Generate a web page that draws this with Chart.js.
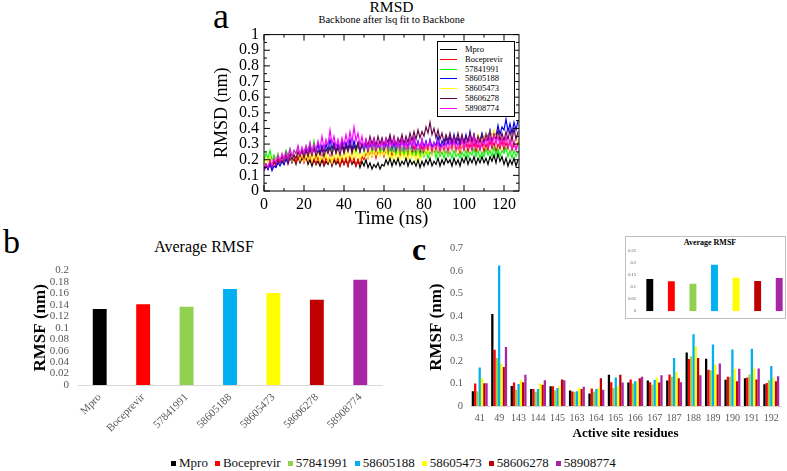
<!DOCTYPE html>
<html><head><meta charset="utf-8">
<script src="https://cdn.jsdelivr.net/npm/chart.js@4.4.0/dist/chart.umd.min.js"></script>
<style>
html,body{margin:0;padding:0;background:#fff;width:787px;height:471px;overflow:hidden;font-family:"Liberation Serif","Times New Roman",serif;}
.abs{position:absolute;white-space:nowrap;line-height:1;font-family:"Liberation Serif","Times New Roman",serif;}
canvas{position:absolute;display:block;}
#lega{position:absolute;left:437px;top:41px;width:78px;height:76px;box-sizing:border-box;border:1px solid #000;background:#fff;}
.lrow{position:absolute;left:0;height:10px;font-size:8.5px;line-height:10px;font-family:"Liberation Serif","Times New Roman",serif;}
.lrow i{position:absolute;left:2px;top:5px;width:17px;height:0;border-top:1px solid #000;}
.lrow span{position:absolute;left:27px;top:0;font-family:"Liberation Serif","Times New Roman",serif;white-space:nowrap;}
#inset{position:absolute;left:625px;top:236px;width:161px;height:83px;box-sizing:border-box;border:1px solid #bfbfbf;overflow:hidden;background:#fff;}
#leg{position:absolute;left:171px;top:456px;display:flex;align-items:center;font-size:13px;line-height:14px;color:#111;font-family:"Liberation Serif","Times New Roman",serif;}
#leg .it{display:flex;align-items:center;margin-right:7px;}
#leg .sq{width:5px;height:5px;margin-right:3px;}
#leg span{font-family:"Liberation Serif","Times New Roman",serif;white-space:nowrap;}
</style></head><body>

<!-- panel a texts -->
<div class="abs" style="left:213px;top:-2px;font-size:36px;">a</div>
<div class="abs" style="left:391.5px;top:-1px;font-size:15.5px;transform:translateX(-50%);">RMSD</div>
<div class="abs" style="left:391.5px;top:14.7px;font-size:10.5px;transform:translateX(-50%);">Backbone after lsq fit to Backbone</div>
<canvas id="ca" width="330" height="210" style="left:200px;top:20px;"></canvas>
<div id="lega"></div>

<!-- panel b texts -->
<div class="abs" style="left:3px;top:224.5px;font-size:34px;">b</div>
<div class="abs" style="left:204px;top:238.6px;font-size:16px;transform:translateX(-50%);">Average RMSF</div>
<canvas id="cb" width="390" height="185" style="left:0px;top:255px;"></canvas>

<!-- panel c -->
<div class="abs" style="left:412px;top:233px;font-size:32px;font-weight:bold;">c</div>
<canvas id="cc" width="397" height="210" style="left:390px;top:235px;"></canvas>
<div id="inset">
  <div class="abs" style="left:84px;top:2px;font-size:8px;font-weight:bold;transform:translateX(-50%);">Average RMSF</div>
  <canvas id="ci" width="170" height="80" style="left:0;top:0;"></canvas>
</div>

<div id="leg"></div>

<script>
// ---------- shared names ----------
const seriesNames = ['Mpro','Boceprevir','57841991','58605188','58605473','58606278','58908774'];

// ---------- panel a: RMSD (nm) vs time (ns), 1 ns sampling ----------
const timeNs = Array.from({length:128}, (_, i) => i);
const rmsdMpro = [
0.13,0.17,0.14,0.18,0.15,0.19,0.16,0.20,0.17,0.19,
0.17,0.21,0.18,0.22,0.18,0.21,0.17,0.22,0.18,0.21,
0.19,0.22,0.17,0.20,0.16,0.20,0.17,0.19,0.16,0.20,
0.16,0.19,0.17,0.21,0.16,0.20,0.17,0.19,0.16,0.20,
0.17,0.20,0.16,0.21,0.17,0.19,0.16,0.20,0.15,0.19,
0.16,0.20,0.15,0.18,0.14,0.17,0.15,0.18,0.14,0.17,
0.16,0.20,0.17,0.21,0.16,0.20,0.17,0.21,0.16,0.19,
0.17,0.21,0.16,0.20,0.17,0.19,0.16,0.20,0.15,0.19,
0.16,0.20,0.17,0.21,0.16,0.19,0.17,0.21,0.16,0.20,
0.17,0.21,0.18,0.20,0.16,0.21,0.17,0.20,0.16,0.21,
0.18,0.22,0.17,0.21,0.18,0.22,0.17,0.21,0.18,0.22,
0.18,0.21,0.17,0.22,0.19,0.23,0.18,0.24,0.19,0.22,
0.17,0.21,0.16,0.20,0.17,0.21,0.16,0.20];
const rmsdBoceprevir = [
0.13,0.17,0.14,0.18,0.15,0.19,0.16,0.21,0.17,0.20,
0.18,0.22,0.17,0.21,0.19,0.23,0.18,0.22,0.19,0.23,
0.18,0.22,0.19,0.24,0.18,0.21,0.17,0.22,0.18,0.23,
0.17,0.21,0.18,0.23,0.17,0.22,0.18,0.21,0.16,0.22,
0.17,0.21,0.16,0.22,0.18,0.21,0.16,0.20,0.17,0.22,
0.20,0.25,0.21,0.26,0.22,0.27,0.21,0.26,0.23,0.27,
0.22,0.27,0.23,0.28,0.22,0.26,0.23,0.28,0.22,0.27,
0.23,0.28,0.22,0.27,0.24,0.29,0.23,0.27,0.24,0.29,
0.23,0.28,0.25,0.30,0.24,0.28,0.25,0.30,0.24,0.29,
0.25,0.30,0.24,0.29,0.26,0.31,0.25,0.29,0.24,0.30,
0.26,0.31,0.25,0.30,0.26,0.31,0.25,0.30,0.26,0.31,
0.25,0.30,0.26,0.32,0.27,0.31,0.25,0.30,0.27,0.32,
0.26,0.31,0.27,0.32,0.26,0.30,0.27,0.31];
const rmsd57841991 = [
0.19,0.24,0.21,0.26,0.19,0.23,0.20,0.24,0.19,0.23,
0.22,0.26,0.23,0.27,0.22,0.26,0.24,0.28,0.23,0.27,
0.25,0.29,0.26,0.31,0.25,0.32,0.26,0.30,0.25,0.29,
0.26,0.30,0.25,0.29,0.24,0.30,0.25,0.29,0.26,0.31,
0.25,0.30,0.26,0.29,0.27,0.31,0.25,0.29,0.26,0.30,
0.25,0.29,0.26,0.31,0.25,0.30,0.24,0.29,0.25,0.28,
0.25,0.29,0.24,0.28,0.25,0.29,0.23,0.28,0.24,0.28,
0.23,0.27,0.24,0.28,0.22,0.26,0.23,0.27,0.22,0.26,
0.22,0.26,0.21,0.25,0.23,0.27,0.21,0.26,0.22,0.25,
0.21,0.26,0.22,0.25,0.21,0.26,0.22,0.24,0.21,0.25,
0.22,0.26,0.21,0.25,0.23,0.27,0.22,0.26,0.21,0.25,
0.22,0.27,0.23,0.26,0.22,0.28,0.23,0.27,0.22,0.26,
0.24,0.28,0.22,0.26,0.21,0.26,0.22,0.25];
const rmsd58605188 = [
0.13,0.16,0.14,0.17,0.13,0.16,0.15,0.18,0.16,0.19,
0.17,0.21,0.18,0.23,0.19,0.23,0.21,0.25,0.21,0.26,
0.23,0.27,0.24,0.29,0.23,0.28,0.25,0.30,0.24,0.29,
0.25,0.30,0.26,0.33,0.27,0.31,0.25,0.30,0.27,0.32,
0.26,0.31,0.27,0.33,0.26,0.32,0.27,0.31,0.25,0.30,
0.26,0.31,0.25,0.30,0.27,0.32,0.26,0.30,0.27,0.33,
0.26,0.31,0.28,0.34,0.27,0.31,0.26,0.32,0.28,0.33,
0.27,0.32,0.28,0.33,0.27,0.34,0.28,0.32,0.27,0.33,
0.28,0.32,0.27,0.33,0.28,0.31,0.29,0.35,0.28,0.32,
0.29,0.34,0.30,0.35,0.29,0.36,0.30,0.34,0.29,0.35,
0.31,0.36,0.30,0.38,0.31,0.36,0.30,0.35,0.32,0.37,
0.32,0.37,0.34,0.39,0.33,0.38,0.35,0.42,0.36,0.41,
0.39,0.46,0.38,0.43,0.37,0.44,0.39,0.45];
const rmsd58605473 = [
0.17,0.21,0.18,0.22,0.17,0.21,0.19,0.23,0.18,0.22,
0.19,0.23,0.20,0.24,0.19,0.23,0.21,0.25,0.20,0.24,
0.19,0.23,0.20,0.24,0.19,0.23,0.20,0.24,0.19,0.22,
0.20,0.24,0.19,0.22,0.18,0.23,0.20,0.24,0.19,0.23,
0.20,0.25,0.21,0.24,0.20,0.26,0.21,0.25,0.20,0.24,
0.22,0.26,0.21,0.27,0.22,0.26,0.23,0.27,0.22,0.26,
0.23,0.27,0.21,0.25,0.20,0.25,0.21,0.26,0.20,0.25,
0.21,0.25,0.20,0.26,0.21,0.24,0.19,0.25,0.20,0.23,
0.23,0.27,0.24,0.29,0.23,0.28,0.25,0.29,0.24,0.28,
0.25,0.29,0.24,0.30,0.26,0.30,0.25,0.31,0.26,0.30,
0.28,0.32,0.29,0.34,0.30,0.35,0.31,0.36,0.30,0.35,
0.33,0.37,0.32,0.38,0.34,0.39,0.33,0.37,0.32,0.36,
0.30,0.34,0.29,0.33,0.28,0.32,0.29,0.33];
const rmsd58606278 = [
0.14,0.17,0.15,0.18,0.16,0.19,0.17,0.21,0.18,0.22,
0.19,0.23,0.20,0.24,0.20,0.23,0.21,0.25,0.22,0.26,
0.21,0.26,0.22,0.27,0.23,0.28,0.22,0.26,0.23,0.27,
0.22,0.27,0.24,0.28,0.23,0.29,0.24,0.28,0.23,0.29,
0.24,0.29,0.25,0.30,0.24,0.29,0.26,0.31,0.25,0.30,
0.28,0.33,0.29,0.35,0.30,0.34,0.29,0.35,0.30,0.34,
0.29,0.34,0.31,0.36,0.30,0.35,0.29,0.34,0.31,0.36,
0.30,0.35,0.31,0.37,0.32,0.38,0.33,0.39,0.34,0.38,
0.35,0.41,0.37,0.44,0.36,0.40,0.34,0.39,0.33,0.37,
0.31,0.36,0.32,0.37,0.31,0.35,0.32,0.37,0.31,0.36,
0.30,0.35,0.32,0.37,0.31,0.36,0.30,0.35,0.31,0.36,
0.31,0.36,0.32,0.38,0.31,0.36,0.33,0.39,0.32,0.37,
0.32,0.38,0.33,0.39,0.32,0.40,0.33,0.38];
const rmsd58908774 = [
0.13,0.17,0.15,0.20,0.16,0.21,0.18,0.23,0.19,0.24,
0.20,0.25,0.21,0.27,0.22,0.26,0.24,0.29,0.23,0.28,
0.24,0.29,0.25,0.31,0.24,0.30,0.26,0.32,0.27,0.35,
0.27,0.33,0.29,0.39,0.30,0.35,0.28,0.33,0.27,0.34,
0.29,0.36,0.30,0.38,0.31,0.41,0.32,0.37,0.29,0.35,
0.27,0.33,0.26,0.32,0.27,0.33,0.26,0.31,0.27,0.32,
0.27,0.33,0.26,0.32,0.28,0.34,0.27,0.32,0.26,0.33,
0.27,0.32,0.26,0.33,0.28,0.34,0.26,0.31,0.27,0.33,
0.26,0.31,0.27,0.32,0.25,0.31,0.26,0.32,0.25,0.30,
0.26,0.31,0.25,0.32,0.27,0.33,0.26,0.31,0.27,0.33,
0.27,0.32,0.28,0.34,0.27,0.35,0.28,0.33,0.27,0.32,
0.29,0.34,0.28,0.35,0.29,0.36,0.30,0.35,0.29,0.34,
0.29,0.35,0.28,0.33,0.27,0.32,0.26,0.31];

// ---------- panel b: average RMSF (nm) ----------
const avgRmsf = [0.133,0.141,0.137,0.168,0.161,0.149,0.184];

// ---------- panel c: RMSF (nm) of active site residues ----------
const residues = ['41','49','143','144','145','163','164','165','166','167','187','188','189','190','191','192'];
const rmsfMpro       = [0.066,0.408,0.089,0.075,0.088,0.069,0.056,0.139,0.104,0.113,0.113,0.237,0.210,0.117,0.123,0.096];
const rmsfBoceprevir = [0.100,0.250,0.104,0.075,0.088,0.064,0.078,0.105,0.118,0.105,0.140,0.209,0.161,0.130,0.127,0.102];
const rmsf57841991   = [0.066,0.213,0.072,0.063,0.070,0.062,0.063,0.080,0.100,0.094,0.130,0.221,0.159,0.130,0.140,0.114];
const rmsf58605188   = [0.171,0.624,0.098,0.075,0.080,0.066,0.076,0.126,0.110,0.117,0.213,0.319,0.273,0.251,0.254,0.178];
const rmsf58605473   = [0.124,0.187,0.114,0.100,0.088,0.080,0.080,0.089,0.107,0.127,0.152,0.266,0.183,0.165,0.167,0.127];
const rmsf58606278   = [0.101,0.173,0.105,0.094,0.118,0.075,0.123,0.139,0.123,0.104,0.123,0.213,0.140,0.110,0.118,0.110];
const rmsf58908774   = [0.101,0.262,0.139,0.114,0.114,0.086,0.072,0.104,0.130,0.136,0.105,0.137,0.189,0.165,0.167,0.132];
// inset: average RMSF over active site
const insetAvgRmsf = [0.134,0.125,0.114,0.193,0.139,0.126,0.138];

// ---------- colours ----------
const graceColors = ['#000000','#ff0000','#00ff00','#0000ff','#ffff00','#670748','#ff00ff'];
const excelColors = ['#000000','#ff0000','#92d050','#00b0f0','#ffff00','#c00000','#a626a4'];

const SERIF = '"Liberation Serif","Times New Roman",serif';
Chart.defaults.font.family = SERIF;
Chart.defaults.animation = false;

// ---------- panel a chart ----------
const rmsdSeries = [rmsdMpro,rmsdBoceprevir,rmsd57841991,rmsd58605188,rmsd58605473,rmsd58606278,rmsd58908774];

const frameTicks = {
  id:'frameTicks',
  afterDraw(chart){
    const {ctx, chartArea:a} = chart; const xs = chart.scales.x, ys = chart.scales.y;
    ctx.save(); ctx.strokeStyle = '#000'; ctx.lineWidth = 1;
    ctx.strokeRect(a.left, a.top, a.right - a.left, a.bottom - a.top);
    ctx.beginPath();
    xs.ticks.forEach(t => {
      const px = xs.getPixelForValue(t.value); const len = (t.value % 20 === 0) ? 6 : 3;
      ctx.moveTo(px, a.bottom); ctx.lineTo(px, a.bottom - len);
      ctx.moveTo(px, a.top); ctx.lineTo(px, a.top + len);
    });
    ys.ticks.forEach((t, i) => {
      const py = ys.getPixelForValue(t.value);
      ctx.moveTo(a.left, py); ctx.lineTo(a.left + 6, py);
      ctx.moveTo(a.right, py); ctx.lineTo(a.right - 6, py);
      if (i < ys.ticks.length - 1) {
        const pm = ys.getPixelForValue((t.value + ys.ticks[i+1].value) / 2);
        ctx.moveTo(a.left, pm); ctx.lineTo(a.left + 3, pm);
        ctx.moveTo(a.right, pm); ctx.lineTo(a.right - 3, pm);
      }
    });
    ctx.stroke(); ctx.restore();
  }
};

new Chart(document.getElementById('ca'), {
  type:'line',
  data:{ datasets: seriesNames.map((n, i) => ({
    label:n, data: timeNs.map((t, k) => ({x:t, y:rmsdSeries[i][k]})),
    borderColor: graceColors[i], borderWidth:1.2, pointRadius:0, tension:0, order: 6 - i
  }))},
  options:{
    responsive:false, devicePixelRatio:1,
    layout:{padding:{top:13,right:11,bottom:0,left:0}},
    plugins:{legend:{display:false}, tooltip:{enabled:false}},
    scales:{
      x:{ type:'linear', min:0, max:127.5,
        grid:{display:false, drawTicks:false}, border:{display:false},
        ticks:{stepSize:10, includeBounds:false, autoSkip:false, maxRotation:0, padding:4,
          color:'#000', font:{size:16, family:SERIF},
          callback:(v) => (v % 20 === 0 ? String(v) : '')},
        title:{display:true, text:'Time (ns)', color:'#000', font:{size:19, family:SERIF}, padding:{top:0,bottom:0}},
        afterFit:(s) => { s.height = 39; }
      },
      y:{ min:0, max:1,
        grid:{display:false, drawTicks:false}, border:{display:false},
        ticks:{stepSize:0.1, autoSkip:false, padding:5, color:'#000', font:{size:16, family:SERIF},
          callback:(v) => String(Math.round(v*10)/10)},
        title:{display:true, text:'RMSD (nm)', color:'#000', font:{size:18, family:SERIF}, padding:{top:11,bottom:0}},
        afterFit:(s) => { s.width = 64; }
      }
    }
  },
  plugins:[frameTicks]
});

// legend box of panel a
const lega = document.getElementById('lega');
seriesNames.forEach((n, i) => {
  const r = document.createElement('div'); r.className = 'lrow';
  r.style.top = (2 + i * 9.8) + 'px';
  r.innerHTML = '<i style="border-top-color:' + graceColors[i] + '"></i><span>' + n + '</span>';
  lega.appendChild(r);
});

// ---------- panel b chart ----------
const tickGray = '#595959';
new Chart(document.getElementById('cb'), {
  type:'bar',
  data:{ labels: seriesNames, datasets:[{ data: avgRmsf, backgroundColor: excelColors,
    barPercentage:0.32, categoryPercentage:1 }]},
  options:{
    responsive:false, devicePixelRatio:1,
    layout:{padding:{top:13,right:8,bottom:0,left:0}},
    plugins:{legend:{display:false}, tooltip:{enabled:false}},
    scales:{
      x:{ grid:{display:false, drawTicks:false}, border:{display:true, color:'#d9d9d9'},
        ticks:{minRotation:45, maxRotation:45, autoSkip:false, padding:6, color:tickGray, font:{size:11, family:SERIF}},
        afterFit:(s) => { s.height = 55; }
      },
      y:{ min:0, max:0.2,
        grid:{display:false, drawTicks:false}, border:{display:false},
        ticks:{stepSize:0.02, autoSkip:false, padding:9, color:tickGray, font:{size:11, family:SERIF},
          callback:(v) => String(Math.round(v*100)/100)},
        title:{display:true, text:'RMSF (nm)', color:'#000', font:{size:17, weight:'bold', family:SERIF}, padding:{top:30,bottom:0}},
        afterFit:(s) => { s.width = 78; }
      }
    }
  }
});

// ---------- panel c chart ----------
const rmsfSeries = [rmsfMpro,rmsfBoceprevir,rmsf57841991,rmsf58605188,rmsf58605473,rmsf58606278,rmsf58908774];
new Chart(document.getElementById('cc'), {
  type:'bar',
  data:{ labels: residues, datasets: seriesNames.map((n, i) => ({
    label:n, data: rmsfSeries[i], backgroundColor: excelColors[i], barPercentage:1, categoryPercentage:0.82 }))},
  options:{
    responsive:false, devicePixelRatio:1,
    layout:{padding:{top:11,right:6,bottom:0,left:0}},
    plugins:{legend:{display:false}, tooltip:{enabled:false}},
    scales:{
      x:{ grid:{display:false, drawTicks:false}, border:{display:true, color:'#d9d9d9'},
        ticks:{maxRotation:0, autoSkip:false, padding:6, color:tickGray, font:{size:10, family:SERIF}},
        title:{display:true, text:'Active site residues', color:'#000', font:{size:13, weight:'bold', family:SERIF}, padding:{top:0,bottom:4}},
        afterFit:(s) => { s.height = 39; }
      },
      y:{ min:0, max:0.7,
        grid:{display:false, drawTicks:false}, border:{display:false},
        ticks:{stepSize:0.1, autoSkip:false, padding:7, color:tickGray, font:{size:10.5, family:SERIF},
          callback:(v) => String(Math.round(v*10)/10)},
        title:{display:true, text:'RMSF (nm)', color:'#000', font:{size:17, weight:'bold', family:SERIF}, padding:{top:36,bottom:0}},
        afterFit:(s) => { s.width = 80; }
      }
    }
  }
});

// ---------- inset ----------
new Chart(document.getElementById('ci'), {
  type:'bar',
  data:{ labels: seriesNames, datasets:[{ data: insetAvgRmsf, backgroundColor: excelColors,
    barPercentage:0.32, categoryPercentage:1 }]},
  options:{
    responsive:false, devicePixelRatio:1,
    layout:{padding:{top:14,right:6,bottom:0,left:0}},
    plugins:{legend:{display:false}, tooltip:{enabled:false}},
    scales:{
      x:{ grid:{display:false, drawTicks:false}, border:{display:false}, ticks:{display:false},
        afterFit:(s) => { s.height = 2; } },
      y:{ min:0, max:0.25,
        grid:{display:false, drawTicks:false}, border:{display:false},
        ticks:{stepSize:0.05, autoSkip:false, padding:3, color:tickGray, font:{size:4.5, family:SERIF},
          callback:(v) => String(Math.round(v*100)/100)},
        afterFit:(s) => { s.width = 13; }
      }
    }
  }
});

// ---------- bottom legend ----------
const leg = document.getElementById('leg');
seriesNames.forEach((n, i) => {
  const it = document.createElement('div'); it.className = 'it';
  it.innerHTML = '<div class="sq" style="background:' + excelColors[i] + '"></div><span>' + n + '</span>';
  leg.appendChild(it);
});
</script>
</body></html>
